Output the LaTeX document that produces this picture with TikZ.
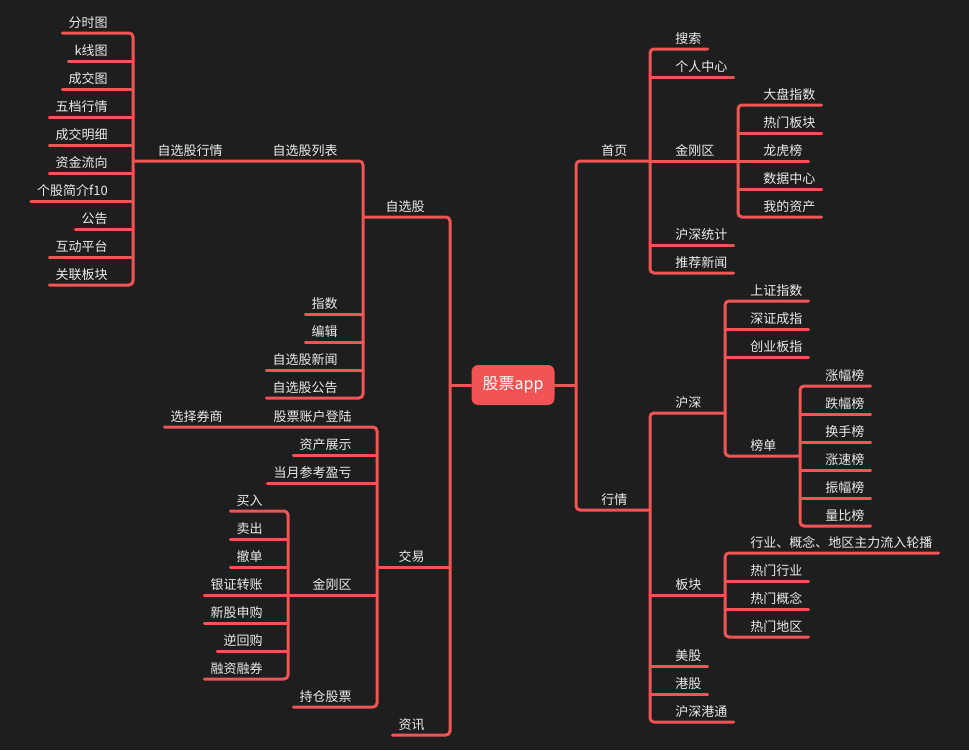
\documentclass[tikz,border=0pt]{standalone}
\usepackage{fontspec}
\newfontfamily\cjk{Noto Sans CJK SC}
\definecolor{bgc}{RGB}{30,30,30}
\definecolor{linec}{RGB}{240,84,84}
\definecolor{txtc}{RGB}{236,236,236}

\begin{document}
\begin{tikzpicture}[x=0.75pt, y=-0.75pt,
    br/.style={draw=linec, line width=2.25pt, rounded corners=3pt, line cap=round},
    rt/.style={anchor=south west, inner xsep=4.5pt, inner ysep=0pt, text height=8pt, text depth=3.75pt, text=txtc, font=\cjk\fontsize{9.75}{12}\selectfont},
    lt/.style={rt, anchor=south east},
    root/.style={fill=linec, rounded corners=5pt, minimum width=62.25pt, minimum height=30pt, inner sep=0pt, text=white, font=\cjk\fontsize{12}{14}\selectfont}]
    \fill[bgc] (0,0) rectangle (969,750);
    \node[root] (app) at (513,385) {股票app};
    \coordinate (rf) at (576,385);
    \coordinate (lf) at (450,385);

    \node[rt] (sy) at (595,161) {首页};
    \node[rt] (hq) at (595,510) {行情};
    \coordinate (sy-f) at (650,161);
    \coordinate (hq-f) at (650,510);
    \node[rt] (ss) at (669,49) {搜索};
    \node[rt] (grzx) at (669,77) {个人中心};
    \node[rt] (jgq) at (669,161) {金刚区};
    \node[rt] (hstj) at (669,245) {沪深统计};
    \node[rt] (tjxw) at (669,273) {推荐新闻};
    \coordinate (jgq-f) at (738,161);
    \node[rt] (dpzs) at (757,105) {大盘指数};
    \node[rt] (rmbk) at (757,133) {热门板块};
    \node[rt] (lhb) at (757,161) {龙虎榜};
    \node[rt] (sjzx) at (757,189) {数据中心};
    \node[rt] (wdzc) at (757,217) {我的资产};
    \node[rt] (hs) at (669,413) {沪深};
    \node[rt] (bk) at (669,595) {板块};
    \node[rt] (mg) at (669,666) {美股};
    \node[rt] (gg) at (669,694) {港股};
    \node[rt] (hsgt) at (669,722) {沪深港通};
    \coordinate (hs-f) at (725,413);
    \coordinate (bk-f) at (725,595);
    \node[rt] (szzs) at (744,301) {上证指数};
    \node[rt] (szcz) at (744,329) {深证成指};
    \node[rt] (cybz) at (744,357) {创业板指};
    \node[rt] (bd) at (744,456) {榜单};
    \coordinate (bd-f) at (800,456);
    \node[rt] (zfb) at (819,386) {涨幅榜};
    \node[rt] (dfb) at (819,414) {跌幅榜};
    \node[rt] (hsb) at (819,442) {换手榜};
    \node[rt] (zsb) at (819,470) {涨速榜};
    \node[rt] (zhfb) at (819,498) {振幅榜};
    \node[rt] (lbb) at (819,526) {量比榜};
    \node[rt] (lunbo) at (744,553) {行业、概念、地区主力流入轮播};
    \node[rt] (rmhy) at (744,581) {热门行业};
    \node[rt] (rmgn) at (744,609) {热门概念};
    \node[rt] (rmdq) at (744,637) {热门地区};

    \node[lt] (zxg) at (431,217) {自选股};
    \node[lt] (jy) at (431,567) {交易};
    \node[lt] (zx) at (431,735) {资讯};
    \coordinate (zxg-f) at (363,217);
    \coordinate (jy-f) at (377,567);
    \node[lt] (zxglb) at (344,161) {自选股列表};
    \node[lt] (zs) at (344,314) {指数};
    \node[lt] (bj) at (344,342) {编辑};
    \node[lt] (zxgxw) at (344,370) {自选股新闻};
    \node[lt] (zxggg) at (344,398) {自选股公告};
    \node[lt] (zxghq) at (229,161) {自选股行情};
    \coordinate (zxghq-f) at (133,161);
    \node[lt] (fst) at (114,33) {分时图};
    \node[lt] (kxt) at (114,61) {k线图};
    \node[lt] (cjt) at (114,89) {成交图};
    \node[lt] (wdhq) at (114,117) {五档行情};
    \node[lt] (cjmx) at (114,145) {成交明细};
    \node[lt] (zjlx) at (114,173) {资金流向};
    \node[lt] (ggjj) at (114,201) {个股简介f10};
    \node[lt] (gonggao) at (114,229) {公告};
    \node[lt] (hdpt) at (114,257) {互动平台};
    \node[lt] (glbk) at (114,285) {关联板块};
    \node[lt] (gpzh) at (358,427) {股票账户登陆};
    \node[lt] (xzqs) at (229,427) {选择券商};
    \node[lt] (zczs) at (358,455) {资产展示};
    \node[lt] (dyck) at (358,483) {当月参考盈亏};
    \node[lt] (jgq2) at (358,595) {金刚区};
    \node[lt] (ccgp) at (358,707) {持仓股票};
    \coordinate (jgq2-f) at (288,595);
    \node[lt] (mr) at (269,511) {买入};
    \node[lt] (mc) at (269,539) {卖出};
    \node[lt] (cd) at (269,567) {撤单};
    \node[lt] (yzzz) at (269,595) {银证转账};
    \node[lt] (xgsg) at (269,623) {新股申购};
    \node[lt] (nhg) at (269,651) {逆回购};
    \node[lt] (rzrq) at (269,679) {融资融券};

    \draw[br] (app.east) -- (rf);
    \draw[br] (sy-f) -- (rf |- sy-f) -- (rf |- hq-f) -- (hq-f);
    \draw[br] (ss.south east) -- (sy-f |- ss.south) -- (sy-f |- tjxw.south) -- (tjxw.south east);
    \draw[br] (sy-f |- grzx.south) -- (grzx.south east);
    \draw[br] (sy-f) -- (jgq-f);
    \draw[br] (sy-f |- hstj.south) -- (hstj.south east);
    \draw[br] (dpzs.south east) -- (jgq-f |- dpzs.south) -- (jgq-f |- wdzc.south) -- (wdzc.south east);
    \draw[br] (jgq-f |- rmbk.south) -- (rmbk.south east);
    \draw[br] (jgq-f) -- (lhb.south east);
    \draw[br] (jgq-f |- sjzx.south) -- (sjzx.south east);
    \draw[br] (hs-f) -- (hq-f |- hs-f) -- (hq-f |- hsgt.south) -- (hsgt.south east);
    \draw[br] (hq-f |- bk-f) -- (bk-f);
    \draw[br] (hq-f |- mg.south) -- (mg.south east);
    \draw[br] (hq-f |- gg.south) -- (gg.south east);
    \draw[br] (szzs.south east) -- (hs-f |- szzs.south) -- (hs-f |- bd-f) -- (bd-f);
    \draw[br] (hs-f |- szcz.south) -- (szcz.south east);
    \draw[br] (hs-f |- cybz.south) -- (cybz.south east);
    \draw[br] (zfb.south east) -- (bd-f |- zfb.south) -- (bd-f |- lbb.south) -- (lbb.south east);
    \draw[br] (bd-f |- dfb.south) -- (dfb.south east);
    \draw[br] (bd-f |- hsb.south) -- (hsb.south east);
    \draw[br] (bd-f |- zsb.south) -- (zsb.south east);
    \draw[br] (bd-f |- zhfb.south) -- (zhfb.south east);
    \draw[br] (lunbo.south east) -- (bk-f |- lunbo.south) -- (bk-f |- rmdq.south) -- (rmdq.south east);
    \draw[br] (bk-f |- rmhy.south) -- (rmhy.south east);
    \draw[br] (bk-f |- rmgn.south) -- (rmgn.south east);

    \draw[br] (app.west) -- (lf);
    \draw[br] (zxg-f) -- (lf |- zxg-f) -- (lf |- zx.south) -- (zx.south west);
    \draw[br] (lf |- jy-f) -- (jy-f);
    \draw[br] (zxghq-f) -- (zxg-f |- zxglb.south) -- (zxg-f |- zxggg.south) -- (zxggg.south west);
    \draw[br] (zxg-f |- zs.south) -- (zs.south west);
    \draw[br] (zxg-f |- bj.south) -- (bj.south west);
    \draw[br] (zxg-f |- zxgxw.south) -- (zxgxw.south west);
    \draw[br] (fst.south west) -- (zxghq-f |- fst.south) -- (zxghq-f |- glbk.south) -- (glbk.south west);
    \draw[br] (zxghq-f |- kxt.south) -- (kxt.south west);
    \draw[br] (zxghq-f |- cjt.south) -- (cjt.south west);
    \draw[br] (zxghq-f |- wdhq.south) -- (wdhq.south west);
    \draw[br] (zxghq-f |- cjmx.south) -- (cjmx.south west);
    \draw[br] (zxghq-f |- zjlx.south) -- (zjlx.south west);
    \draw[br] (zxghq-f |- ggjj.south) -- (ggjj.south west);
    \draw[br] (zxghq-f |- gonggao.south) -- (gonggao.south west);
    \draw[br] (zxghq-f |- hdpt.south) -- (hdpt.south west);
    \draw[br] (xzqs.south west) -- (jy-f |- gpzh.south) -- (jy-f |- ccgp.south) -- (ccgp.south west);
    \draw[br] (jy-f |- zczs.south) -- (zczs.south west);
    \draw[br] (jy-f |- dyck.south) -- (dyck.south west);
    \draw[br] (jy-f |- jgq2-f) -- (jgq2-f);
    \draw[br] (mr.south west) -- (jgq2-f |- mr.south) -- (jgq2-f |- rzrq.south) -- (rzrq.south west);
    \draw[br] (jgq2-f |- mc.south) -- (mc.south west);
    \draw[br] (jgq2-f |- cd.south) -- (cd.south west);
    \draw[br] (jgq2-f |- yzzz.south) -- (yzzz.south west);
    \draw[br] (jgq2-f |- xgsg.south) -- (xgsg.south west);
    \draw[br] (jgq2-f |- nhg.south) -- (nhg.south west);
\end{tikzpicture}
\end{document}
